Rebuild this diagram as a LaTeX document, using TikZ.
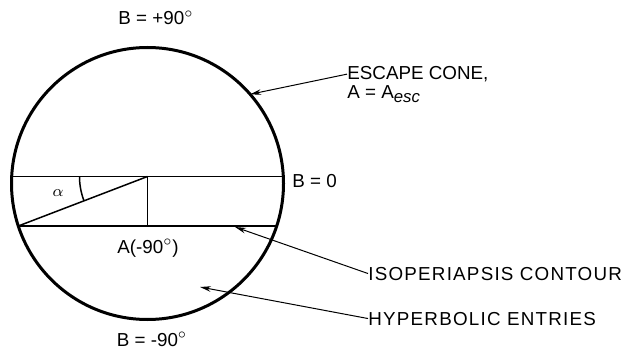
\documentclass[tikz,border=0pt]{standalone}
\usepackage{fontspec}
\setmainfont{Liberation Sans}
\newfontfamily\widefont[LetterSpace=6.5]{Liberation Sans}
\usetikzlibrary{positioning,arrows.meta,calc}

\begin{document}
\begin{tikzpicture}[
  x=0.5pt, y=-0.5pt,
  every node/.style={font=\fontsize{9.4}{11}\selectfont, inner sep=0pt},
  lbl/.style={anchor=base west},
  widelbl/.style={anchor=base west, font=\fontsize{9.4}{11}\widefont},
  arr/.style={-{Stealth[length=5.5pt,width=2.8pt]}, line width=0.5pt},
  thin line/.style={line width=0.75pt}
]
\useasboundingbox (0,0) rectangle (626,353);
\coordinate (O) at (147.5,183.5);
\draw[line width=1.5pt] (O) circle[radius=136];
% chords, vertical and diagonal
\coordinate (ul) at ($(O)+(-135.8,-7)$);
\coordinate (ur) at ($(O)+(135.8,-7)$);
\coordinate (ll) at ($(O)+(-129.2,42.5)$);
\coordinate (lr) at ($(O)+(129.2,42.5)$);
\coordinate (um) at ($(O)+(0,-7)$);
\coordinate (lm) at ($(O)+(0,42.5)$);
\draw[thin line] (ul) -- (ur);
\draw[thin line] (ll) -- (lr);
\draw[thin line] (um) -- (lm);
\draw[thin line] (um) -- (ll);
\draw[thin line] ([shift={(180:68)}]um) arc[start angle=180, end angle=159, radius=68];

\node (alpha) at (58,193) {\fontsize{8}{9}\selectfont$\alpha$};
\node[anchor=base] (top) at (156,25) {B = +90$^\circ$};
\node[anchor=base] (bot) at (152,346.5) {B = -90$^\circ$};
\node[anchor=base] (am) at (148,253) {A(-90$^\circ$)};
\node[lbl] (bzero) at (292,187) {B = 0};
\node[lbl] (esc) at (347,79.5) {ESCAPE CONE,};
\node[lbl] (escA) at (347,98) {A = A\raisebox{-0.45ex}{\fontsize{8.4}{9}\selectfont\itshape esc}};
\node[widelbl] (iso) at (368,280) {ISOPERIAPSIS CONTOUR};
\node[widelbl] (hyp) at (368,325) {HYPERBOLIC ENTRIES};

\coordinate (hitesc) at ($(O)+(-41:136)$);
\coordinate (hitiso) at (235,227);
\coordinate (hithyp) at (200,287);
\draw[arr] (esc.west) -- (hitesc);
\draw[arr] (iso.west) -- (hitiso);
\draw[arr] (hyp.west) -- (hithyp);
\end{tikzpicture}
\end{document}
